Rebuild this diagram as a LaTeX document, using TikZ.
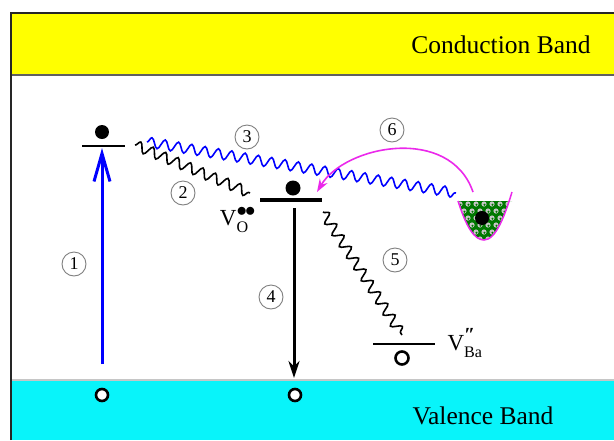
\documentclass[tikz,border=0pt]{standalone}
\usepackage{fontspec}
\setmainfont{Liberation Serif}
\usetikzlibrary{arrows.meta,decorations.pathmorphing}
\definecolor{cband}{RGB}{8,244,250}
\definecolor{ybband}{RGB}{255,255,0}
\definecolor{wellgreen}{RGB}{0,120,0}
\definecolor{mag}{RGB}{235,40,235}
\begin{document}
\begin{tikzpicture}[x=1pt,y=-1pt,
  lvl/.style={line width=2.6pt},
  electron/.style={circle,fill=black,inner sep=0pt,minimum size=14pt},
  hole/.style={circle,draw=black,fill=white,line width=2.6pt,inner sep=0pt,minimum size=12pt},
  num/.style={circle,draw=gray,line width=0.9pt,inner sep=0pt,minimum size=24pt,font=\fontsize{18}{18}\selectfont},
  wave/.style={decorate,decoration={snake,segment length=13.5pt,amplitude=5pt},line width=1.6pt},
  bandtext/.style={font=\fontsize{25.5}{26}\selectfont,anchor=base}]
\useasboundingbox (0,0) rectangle (614,440);
\fill[white] (0,0) rectangle (614,440);
% bands
\fill[ybband] (11,13) rectangle (614,75);
\draw[gray!75!black,line width=2.5pt] (11,75) -- (614,75);
\fill[cband] (11,380) rectangle (614,440);
\draw[gray!45,line width=2.5pt] (11,380) -- (614,380);
\coordinate (fbl) at (11,440);
\coordinate (ftl) at (11,13);
\coordinate (ftr) at (614,13);
\draw[line width=2pt,black!85] (fbl) -- (ftl) -- (ftr);
\node[bandtext] (cb) at (501,53) {Conduction Band};
\node[bandtext] (vb) at (483,424) {Valence Band};
% levels
\coordinate (l1a) at (82,146); \coordinate (l1b) at (125,146);
\draw[lvl] (l1a) -- (l1b);
\coordinate (l2a) at (260,200); \coordinate (l2b) at (322,200);
\draw[lvl,line width=3.4pt] (l2a) -- (l2b);
\coordinate (l3a) at (373,344); \coordinate (l3b) at (435,344);
\draw[lvl] (l3a) -- (l3b);
% electrons and holes
\node[electron] (e1) at (102,132) {};
\node[electron,minimum size=15pt] (e2) at (293,188) {};
\node[hole] (h1) at (102,395) {};
\node[hole] (h2) at (295,395) {};
\node[hole,minimum size=13pt] (h3) at (402,358) {};
% arrow 1
\coordinate (a1s) at (102,364); \coordinate (a1e) at (102,148);
\draw[blue,line width=3pt,-{Straight Barb[length=28pt,width=16pt,line width=3pt]}] (a1s) -- (a1e);
% arrow 4
\coordinate (a4s) at (294,208); \coordinate (a4e) at (294,378);
\draw[line width=3pt,-{Stealth[length=17pt,width=11pt]}] (a4s) -- (a4e);
% waves
\coordinate (w2s) at (135,145); \coordinate (w2e) at (250,193);
\draw[wave] (w2s) -- (w2e);
\coordinate (w3s) at (147,142); \coordinate (w3e) at (456,193);
\draw[wave,blue] (w3s) -- (w3e);
\coordinate (w5s) at (323,212); \coordinate (w5e) at (402,335);
\draw[wave] (w5s) -- (w5e);
% well
\begin{scope}
  \clip (450,201) rectangle (520,246);
  \clip (458,201) .. controls (466,226) and (474,240) .. (484,240) .. controls (496,240) and (505,215) .. (512,192) -- (512,201) -- cycle;
  \fill[wellgreen] (450,195) rectangle (520,246);
  \foreach \j in {0,...,6}{
    \foreach \i in {0,...,9}{
      \pgfmathsetmacro{\xx}{452+\i*8+mod(\j,2)*4}
      \pgfmathsetmacro{\yy}{204+\j*7}
      \fill[gray!45] (\xx,\yy) circle (2.6pt);
      \fill[wellgreen] (\xx+0.5,\yy+0.7) circle (1.1pt);
    }
  }
\end{scope}
\coordinate (wl) at (458,201); \coordinate (wr) at (512,192);
\draw[mag,line width=1.5pt] (wl) .. controls (466,226) and (474,240) .. (484,240) .. controls (496,240) and (505,215) .. (wr);
\node[electron] (e3) at (482,218) {};
% arrow 6
\coordinate (a6s) at (473,192); \coordinate (a6e) at (317,192);
\draw[mag,line width=1.6pt,-{Stealth[length=13pt,width=9pt]}] (a6s) .. controls (450,125) and (345,145) .. (a6e);
% numbers
\node[num] (n1) at (74,264) {1};
\node[num] (n2) at (183,193) {2};
\node[num] (n3) at (247,137) {3};
\node[num] (n4) at (271,297) {4};
\node[num] (n5) at (395,260) {5};
\node[num] (n6) at (392,130) {6};
% labels
\node[inner sep=0pt] (vo) at (238,220) {\fontsize{23}{23}\selectfont V$_{\mathrm{O}}^{\mbox{\fontsize{20}{20}\selectfont$\bullet\mkern-1.5mu\bullet$}}$};
\node[inner sep=0pt] (vba) at (465,343) {\fontsize{23}{23}\selectfont V$_{\mathrm{Ba}}^{\mbox{\fontsize{20}{20}\selectfont\bfseries\symbol{"2033}}}$};
\end{tikzpicture}
\end{document}
